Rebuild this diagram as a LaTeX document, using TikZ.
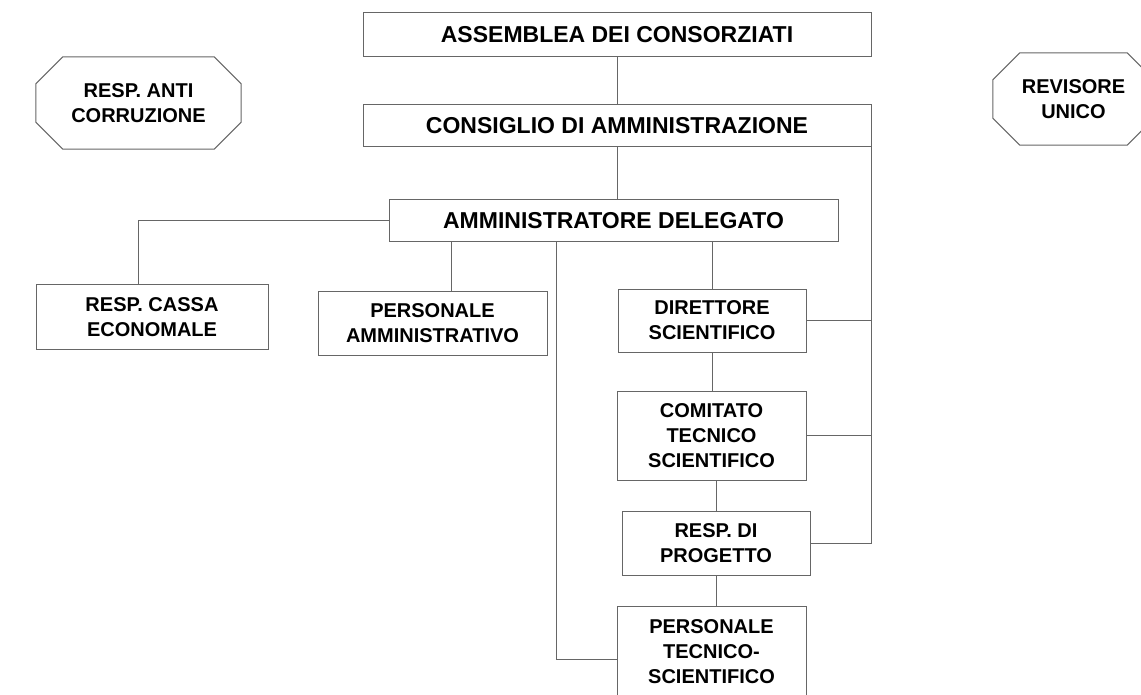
\documentclass[tikz,border=0pt]{standalone}
\usepackage{fontspec}
\setmainfont{Liberation Sans}
\usepackage{tikz}

\begin{document}
\begin{tikzpicture}[x=1pt, y=-1pt,
		box/.style={draw=black!60, line width=1pt, inner sep=0pt, align=center,
			font=\bfseries\fontsize{20}{25}\selectfont},
		bigbox/.style={box, font=\bfseries\fontsize{23}{27}\selectfont},
		octa/.style={inner sep=0pt, align=center, font=\bfseries\fontsize{20}{25}\selectfont},
		link/.style={draw=black!60, line width=1pt}]
		\useasboundingbox (0,0) rectangle (1141,695);
		% top
		\node[bigbox, minimum width=508pt, minimum height=44pt] (assemblea) at (617,35) {ASSEMBLEA DEI CONSORZIATI};
		\node[bigbox, minimum width=508pt, minimum height=42pt] (consiglio) at (617,126) {CONSIGLIO DI AMMINISTRAZIONE};
		\node[bigbox, minimum width=449pt, minimum height=42pt] (amministratore) at (613.5,221) {AMMINISTRATORE DELEGATO};
		% side offices
		\node[octa, minimum width=205pt, minimum height=92pt] (anticorr) at (138.5,103) {RESP. ANTI\\CORRUZIONE};
		\node[octa, minimum width=161pt, minimum height=92pt] (revisore) at (1073.5,99) {REVISORE\\UNICO};
		\foreach \o in {anticorr,revisore}
			\draw[link] ([xshift=27pt]\o.north west) -- ([xshift=-27pt]\o.north east)
			-- ([yshift=-27pt]\o.north east) -- ([yshift=27pt]\o.south east)
			-- ([xshift=-27pt]\o.south east) -- ([xshift=27pt]\o.south west)
			-- ([yshift=27pt]\o.south west) -- ([yshift=-27pt]\o.north west) -- cycle;
		% staff
		\node[box, minimum width=232pt, minimum height=64pt] (cassa) at (152,317) {RESP. CASSA\\ECONOMALE};
		\node[box, minimum width=229pt, minimum height=64pt] (persamm) at (432.5,323) {PERSONALE\\AMMINISTRATIVO};
		% scientific line
		\node[box, minimum width=188pt, minimum height=63pt] (direttore) at (712,320.5) {DIRETTORE\\SCIENTIFICO};
		\node[box, minimum width=189pt, minimum height=89pt] (comitato) at (711.5,435.5) {COMITATO\\TECNICO\\SCIENTIFICO};
		\node[box, minimum width=188pt, minimum height=64pt] (resprog) at (716,543) {RESP. DI\\PROGETTO};
		\node[box, minimum width=189pt, minimum height=92pt] (perstec) at (711.5,652) {PERSONALE\\TECNICO-\\SCIENTIFICO};
		% links
		\draw[link] (assemblea) -- (consiglio);
		\draw[link] (consiglio.south) -- (consiglio.south |- amministratore.north);
		\draw[link] (amministratore.west) -| ([xshift=-14pt]cassa.north);
		\draw[link] ([xshift=18.5pt]persamm.north) -- ([xshift=18.5pt]persamm.north |- amministratore.south);
		\draw[link] (direttore.north |- amministratore.south) -- (direttore.north);
		\draw[link] (direttore.south) -- (direttore.south |- comitato.north);
		\draw[link] (resprog.north |- comitato.south) -- (resprog.north);
		\draw[link] (resprog.south) -- (resprog.south |- perstec.north);
		\coordinate (tecdrop) at (556,659);
		\draw[link] (tecdrop |- amministratore.south) -- (tecdrop) -- (tecdrop -| perstec.west);
		% board line
		\draw[link] (consiglio.south east) -- (consiglio.south east |- resprog.east) -- (resprog.east);
		\foreach \n in {direttore,comitato}
			\draw[link] (\n.east) -- (\n.east -| consiglio.south east);
	\end{tikzpicture}
\end{document}
